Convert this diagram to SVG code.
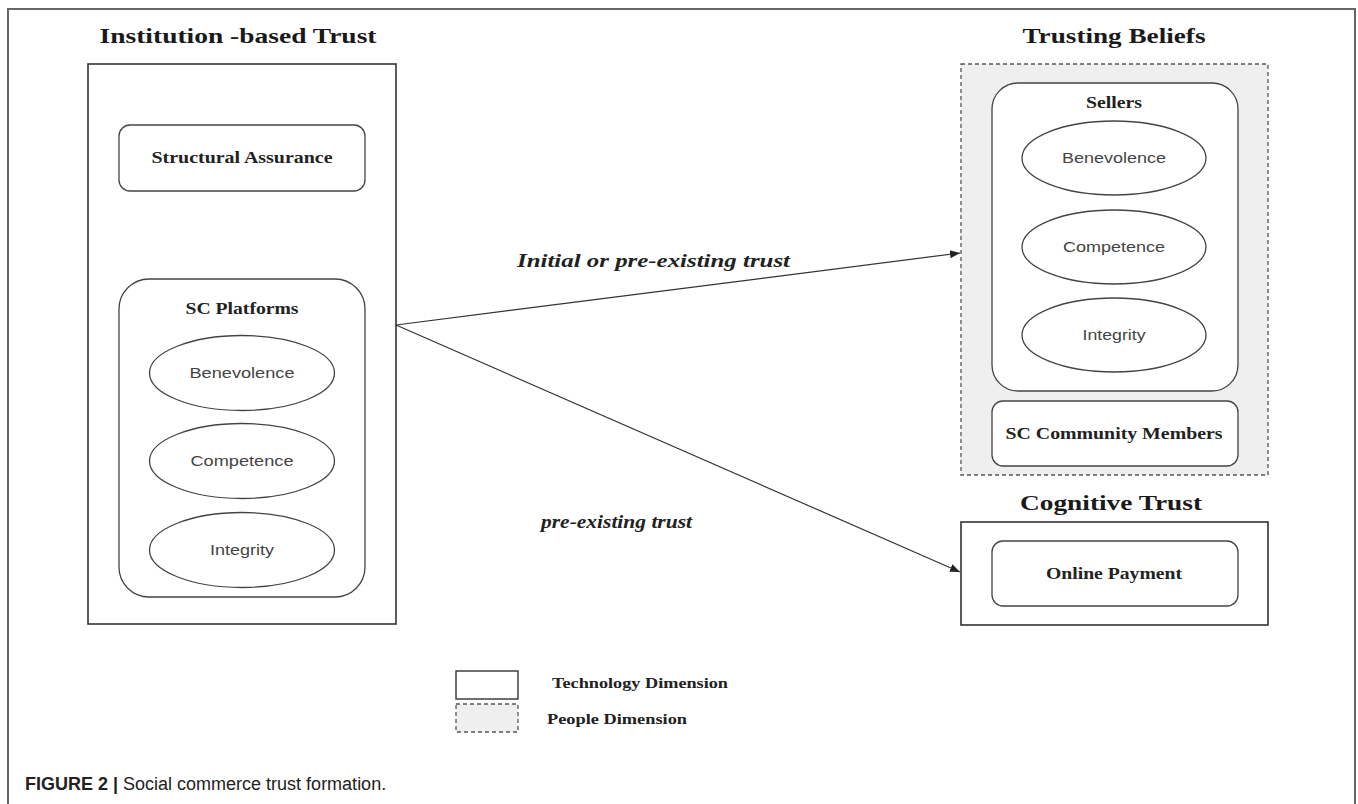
<svg xmlns="http://www.w3.org/2000/svg" width="1358" height="804" viewBox="0 0 1358 804">
  <style>
    .frame { fill: none; stroke: #666; stroke-width: 2; }
    .box { fill: #fff; stroke: #333; stroke-width: 1.6; }
    .rbox { fill: #fff; stroke: #444; stroke-width: 1.3; }
    .people { fill: #efefef; stroke: #555; stroke-width: 1.3; stroke-dasharray: 4 3; }
    .ell { fill: #fff; stroke: #444; stroke-width: 1.3; }
    .edge { fill: none; stroke: #333; stroke-width: 1.2; }
    .title { font-family: "Liberation Serif", "Times New Roman", serif; font-weight: bold; fill: #1a1a1a; text-anchor: middle; }
    .label { font-family: "Liberation Serif", "Times New Roman", serif; font-weight: bold; fill: #222; text-anchor: middle; font-size: 16px; }
    .oval { font-family: "Liberation Sans", Arial, sans-serif; fill: #444; text-anchor: middle; font-size: 15px; }
    .elabel { font-family: "Liberation Serif", "Times New Roman", serif; font-weight: bold; font-style: italic; fill: #222; font-size: 19px; }
    .legend { font-family: "Liberation Serif", "Times New Roman", serif; font-weight: bold; fill: #222; font-size: 14.5px; }
    .caption { font-family: "Liberation Sans", Arial, sans-serif; font-size: 18px; fill: #222; }
  </style>
  <defs>
    <marker id="arrow" viewBox="0 0 10 10" refX="10" refY="5" markerWidth="10" markerHeight="10" markerUnits="userSpaceOnUse" orient="auto">
      <path d="M0,1 L10,5 L0,9 z" fill="#222"/>
    </marker>
  </defs>

  <rect width="1358" height="804" fill="#fff"/>
  <!-- outer figure frame, open at the bottom -->
  <path class="frame" d="M8,804 V9 H1355 V804"/>

  <!-- Institution-based trust -->
  <g id="institution-trust">
    <text class="title" x="238" y="43" font-size="20" textLength="277" lengthAdjust="spacingAndGlyphs">Institution -based Trust</text>
    <rect class="box" x="88" y="64" width="308" height="560"/>
  </g>
  <g id="structural-assurance">
    <rect class="rbox" x="119" y="125" width="246" height="66" rx="11"/>
    <text class="label" x="242" y="163" textLength="181" lengthAdjust="spacingAndGlyphs">Structural Assurance</text>
  </g>
  <g id="sc-platforms">
    <rect class="rbox" x="119" y="279" width="246" height="318" rx="30"/>
    <text class="label" x="242" y="314" textLength="113" lengthAdjust="spacingAndGlyphs">SC Platforms</text>
    <ellipse class="ell" cx="242" cy="373" rx="92.5" ry="37.5"/>
    <text class="oval" x="242" y="378" textLength="105" lengthAdjust="spacingAndGlyphs">Benevolence</text>
    <ellipse class="ell" cx="242" cy="461" rx="92.5" ry="37.5"/>
    <text class="oval" x="242" y="466" textLength="103" lengthAdjust="spacingAndGlyphs">Competence</text>
    <ellipse class="ell" cx="242" cy="550" rx="92.5" ry="37.5"/>
    <text class="oval" x="242" y="555" textLength="64" lengthAdjust="spacingAndGlyphs">Integrity</text>
  </g>

  <!-- Trusting beliefs -->
  <g id="trusting-beliefs">
    <text class="title" x="1114" y="43" font-size="20" textLength="183" lengthAdjust="spacingAndGlyphs">Trusting Beliefs</text>
    <rect class="people" x="961" y="64" width="307" height="411"/>
  </g>
  <g id="sellers">
    <rect class="rbox" x="992" y="83" width="246" height="308" rx="26"/>
    <text class="label" x="1114" y="108" textLength="56" lengthAdjust="spacingAndGlyphs">Sellers</text>
    <ellipse class="ell" cx="1114" cy="158" rx="92" ry="37"/>
    <text class="oval" x="1114" y="163" textLength="104" lengthAdjust="spacingAndGlyphs">Benevolence</text>
    <ellipse class="ell" cx="1114" cy="247" rx="92" ry="37"/>
    <text class="oval" x="1114" y="252" textLength="102" lengthAdjust="spacingAndGlyphs">Competence</text>
    <ellipse class="ell" cx="1114" cy="335" rx="92" ry="37"/>
    <text class="oval" x="1114" y="340" textLength="63" lengthAdjust="spacingAndGlyphs">Integrity</text>
  </g>
  <g id="sc-community-members">
    <rect class="rbox" x="992" y="401" width="246" height="65" rx="11"/>
    <text class="label" x="1114" y="439" textLength="217" lengthAdjust="spacingAndGlyphs">SC Community Members</text>
  </g>

  <!-- Cognitive trust -->
  <g id="cognitive-trust">
    <text class="title" x="1111" y="510" font-size="21" textLength="182" lengthAdjust="spacingAndGlyphs">Cognitive Trust</text>
    <rect class="box" x="961" y="522" width="307" height="103"/>
  </g>
  <g id="online-payment">
    <rect class="rbox" x="992" y="541" width="246" height="65" rx="11"/>
    <text class="label" x="1114" y="579" textLength="136" lengthAdjust="spacingAndGlyphs">Online Payment</text>
  </g>

  <!-- connectors -->
  <g id="connectors">
    <line class="edge" x1="396" y1="325" x2="960" y2="253" marker-end="url(#arrow)"/>
    <line class="edge" x1="396" y1="325" x2="960" y2="572" marker-end="url(#arrow)"/>
    <text class="elabel" x="517" y="267" textLength="273" lengthAdjust="spacingAndGlyphs">Initial or pre-existing trust</text>
    <text class="elabel" x="541" y="528" textLength="151" lengthAdjust="spacingAndGlyphs">pre-existing trust</text>
  </g>

  <!-- legend -->
  <g id="legend">
    <rect x="456" y="671" width="62" height="28" fill="#fff" stroke="#333" stroke-width="1.4"/>
    <rect class="people" x="456" y="704" width="62" height="28"/>
    <text class="legend" x="552" y="688" textLength="176" lengthAdjust="spacingAndGlyphs">Technology Dimension</text>
    <text class="legend" x="547" y="724" textLength="140" lengthAdjust="spacingAndGlyphs">People Dimension</text>
  </g>

  <!-- caption -->
  <g id="caption">
    <text class="caption" x="25" y="790"><tspan font-weight="bold">FIGURE 2 |</tspan> Social commerce trust formation.</text>
  </g>
</svg>
